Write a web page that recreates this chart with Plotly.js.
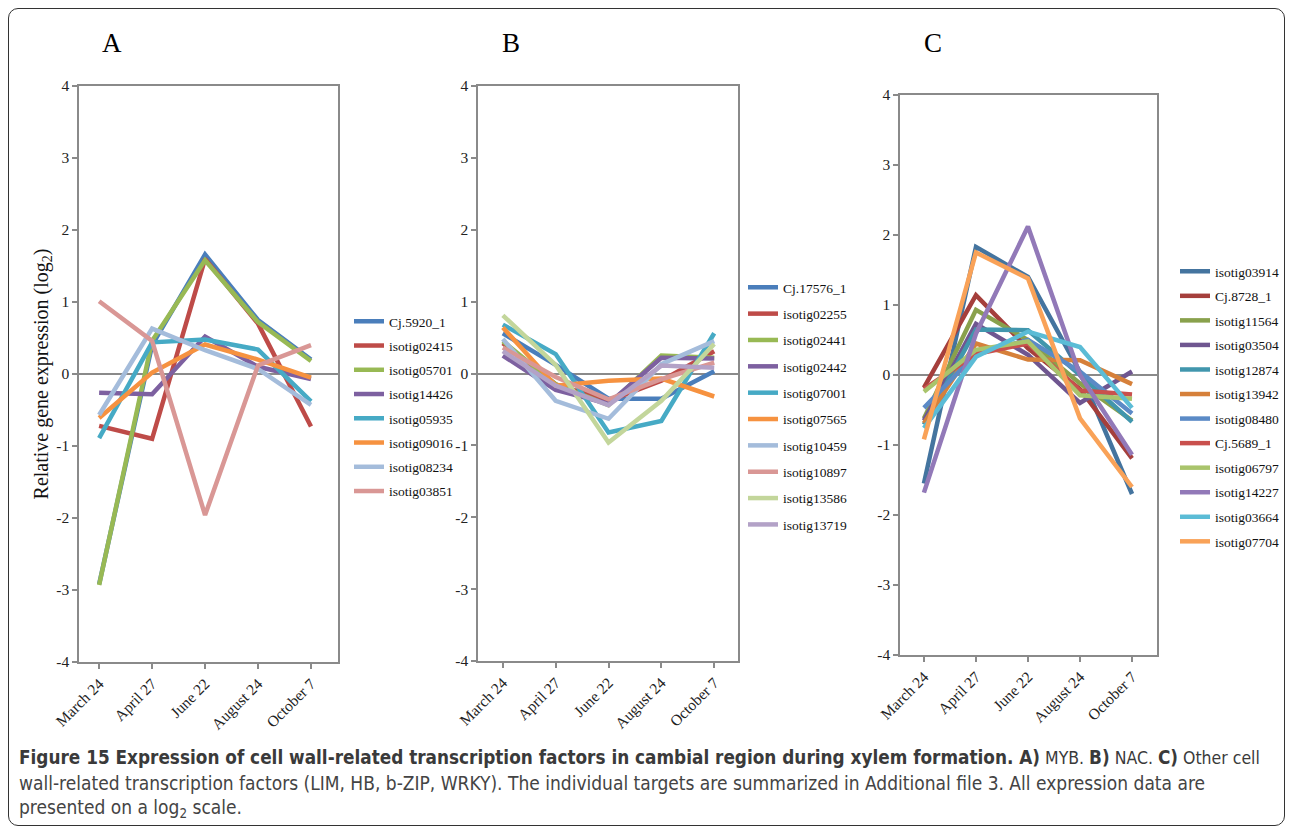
<!DOCTYPE html>
<html>
<head>
<meta charset="utf-8">
<script src="https://cdn.plot.ly/plotly-3.0.1.min.js"></script>
<style>
  html, body { margin: 0; padding: 0; background: #fff; }
  #wrap { position: relative; width: 1293px; height: 829px; }
  #chart { width: 1293px; height: 829px; }
  #frame { position: absolute; left: 8px; top: 8px; width: 1277px; height: 818px;
           border: 1px solid #333; border-radius: 10px; pointer-events: none; box-sizing: border-box; }
</style>
</head>
<body>
<div id="wrap"><div id="chart"></div><div id="frame"></div></div>
<script>
// ---- categories ----
const months = ['March 24', 'April 27', 'June 22', 'August 24', 'October 7'];
const yTickVals = [-4, -3, -2, -1, 0, 1, 2, 3, 4];
const yTickText = ['-4', '-3', '-2', '-1', '0', '1', '2', '3', '4'];

// ---- Panel A: MYB ----
const namesA = ['Cj.5920_1', 'isotig02415', 'isotig05701', 'isotig14426', 'isotig05935', 'isotig09016', 'isotig08234', 'isotig03851'];
const A_Cj5920_1   = [-2.92, 0.40, 1.66, 0.75, 0.20];
const A_isotig02415 = [-0.72, -0.90, 1.60, 0.70, -0.73];
const A_isotig05701 = [-2.93, 0.46, 1.58, 0.72, 0.18];
const A_isotig14426 = [-0.26, -0.28, 0.52, 0.10, -0.07];
const A_isotig05935 = [-0.89, 0.44, 0.48, 0.34, -0.38];
const A_isotig09016 = [-0.61, 0.02, 0.41, 0.20, -0.05];
const A_isotig08234 = [-0.57, 0.63, 0.33, 0.07, -0.43];
const A_isotig03851 = [1.01, 0.46, -1.96, 0.12, 0.40];
const valuesA = [A_Cj5920_1, A_isotig02415, A_isotig05701, A_isotig14426, A_isotig05935, A_isotig09016, A_isotig08234, A_isotig03851];
const colorsA = ['#4a7ebb', '#be4b48', '#98b954', '#7d60a0', '#46aac5', '#f69240', '#a4bcdb', '#d99795'];

// ---- Panel B: NAC ----
const namesB = ['Cj.17576_1', 'isotig02255', 'isotig02441', 'isotig02442', 'isotig07001', 'isotig07565', 'isotig10459', 'isotig10897', 'isotig13586', 'isotig13719'];
const B_Cj17576_1  = [0.56, 0.12, -0.35, -0.35, 0.03];
const B_isotig02255 = [0.42, -0.15, -0.38, -0.10, 0.31];
const B_isotig02441 = [0.45, -0.15, -0.44, 0.25, 0.22];
const B_isotig02442 = [0.25, -0.23, -0.42, 0.22, 0.21];
const B_isotig07001 = [0.68, 0.27, -0.82, -0.66, 0.56];
const B_isotig07565 = [0.64, -0.17, -0.10, -0.07, -0.32];
const B_isotig10459 = [0.48, -0.38, -0.63, 0.13, 0.45];
const B_isotig10897 = [0.36, -0.05, -0.36, -0.08, 0.15];
const B_isotig13586 = [0.81, 0.12, -0.96, -0.38, 0.41];
const B_isotig13719 = [0.31, -0.17, -0.44, 0.11, 0.08];
const valuesB = [B_Cj17576_1, B_isotig02255, B_isotig02441, B_isotig02442, B_isotig07001, B_isotig07565, B_isotig10459, B_isotig10897, B_isotig13586, B_isotig13719];
const colorsB = ['#4a7ebb', '#be4b48', '#98b954', '#7d60a0', '#46aac5', '#f69240', '#a4bcdb', '#d99795', '#c3d69b', '#b3a2c7'];

// ---- Panel C: other (LIM, HB, b-ZIP, WRKY) ----
const namesC = ['isotig03914', 'Cj.8728_1', 'isotig11564', 'isotig03504', 'isotig12874', 'isotig13942', 'isotig08480', 'Cj.5689_1', 'isotig06797', 'isotig14227', 'isotig03664', 'isotig07704'];
const C_isotig03914 = [-1.55, 1.83, 1.40, 0.04, -1.70];
const C_Cj8728_1   = [-0.18, 1.14, 0.38, -0.20, -1.19];
const C_isotig11564 = [-0.62, 0.93, 0.50, -0.12, -0.65];
const C_isotig03504 = [-0.65, 0.73, 0.29, -0.40, 0.05];
const C_isotig12874 = [-0.71, 0.65, 0.64, 0.00, -0.67];
const C_isotig13942 = [-0.69, 0.45, 0.22, 0.21, -0.13];
const C_isotig08480 = [-0.47, 0.30, 0.50, 0.05, -0.55];
const C_Cj5689_1   = [-0.20, 0.30, 0.45, -0.22, -0.28];
const C_isotig06797 = [-0.24, 0.36, 0.48, -0.29, -0.34];
const C_isotig14227 = [-1.68, 0.59, 2.12, 0.00, -1.14];
const C_isotig03664 = [-0.76, 0.26, 0.62, 0.40, -0.47];
const C_isotig07704 = [-0.92, 1.75, 1.38, -0.62, -1.60];
const valuesC = [C_isotig03914, C_Cj8728_1, C_isotig11564, C_isotig03504, C_isotig12874, C_isotig13942, C_isotig08480, C_Cj5689_1, C_isotig06797, C_isotig14227, C_isotig03664, C_isotig07704];
const colorsC = ['#44749f', '#a53f3c', '#89a14c', '#6f5690', '#4196ad', '#d6803a', '#5b8ac6', '#c9504d', '#a9c46c', '#9279b8', '#5bbcd6', '#f9a258'];

const W = 1293, H = 829;
const px = v => v / W;
const py = v => 1 - v / H;

const traces = [];
function addPanel(names, values, colors, xa, ya, leg) {
  names.forEach((n, i) => {
    traces.push({
      type: 'scatter', mode: 'lines', x: months, y: values[i], name: n,
      xaxis: xa, yaxis: ya, legend: leg, legendgroup: leg + i,
      line: { color: colors[i], width: 4.5 },
      hoverinfo: 'x+y+name'
    });
  });
}
addPanel(namesA, valuesA, colorsA, 'x', 'y', 'legend');
addPanel(namesB, valuesB, colorsB, 'x2', 'y2', 'legend2');
addPanel(namesC, valuesC, colorsC, 'x3', 'y3', 'legend3');

const serif = 'Liberation Serif';
const axisCol = '#8a8a8a';
function xaxisDef(d0, d1, r0, r1, anchor) {
  return {
    domain: [px(d0), px(d1)], anchor: anchor, type: 'category', range: [r0, r1],
    showline: true, linecolor: axisCol, linewidth: 1.5, mirror: true,
    ticks: 'outside', ticklen: 5, tickcolor: axisCol, tickwidth: 1.5,
    tickangle: -45, showgrid: false, zeroline: false,
    tickfont: { family: serif, size: 15.5, color: '#222' }
  };
}
function yaxisDef(t, b, anchor, title) {
  const o = {
    domain: [py(b), py(t)], anchor: anchor, range: [-4, 4],
    tickmode: 'array', tickvals: yTickVals, ticktext: yTickText,
    showline: true, linecolor: axisCol, linewidth: 1.5, mirror: true,
    ticks: 'outside', ticklen: 5, tickcolor: axisCol, tickwidth: 1.5,
    showgrid: false, zeroline: true, zerolinecolor: axisCol, zerolinewidth: 1.5,
    tickfont: { family: serif, size: 15.5, color: '#222' }
  };
  if (title) o.title = { text: title, font: { family: serif, size: 20, color: '#111' }, standoff: 2 };
  return o;
}
function legendDef(x, y, gap) {
  return {
    x: px(x), y: py(y), xanchor: 'left', yanchor: 'top', xref: 'paper', yref: 'paper',
    bgcolor: 'rgba(0,0,0,0)', borderwidth: 0, tracegroupgap: gap, itemwidth: 30,
    font: { family: serif, size: 13.5, color: '#111' }
  };
}

const capFont = 'DejaVu Sans Condensed';
const Bd = s => '<b><span style="font-size:18.8px">' + s + '</span></b>';
const Rg = s => '<span style="font-size:17.5px">' + s + '</span>';
const layout = {
  width: W, height: H, margin: { l: 0, r: 0, t: 0, b: 0 },
  font: { family: serif, size: 13.5, color: '#111' },
  paper_bgcolor: '#fff', plot_bgcolor: '#fff', showlegend: true,
  xaxis: xaxisDef(79, 338, -0.38, 4.51, 'y'),
  yaxis: yaxisDef(86, 662, 'x', 'Relative gene expression (log<sub>2</sub>)'),
  xaxis2: xaxisDef(478, 738, -0.47, 4.45, 'y2'),
  yaxis2: yaxisDef(86, 661, 'x2'),
  xaxis3: xaxisDef(900, 1157, -0.46, 4.48, 'y3'),
  yaxis3: yaxisDef(95, 655, 'x3'),
  legend: legendDef(349, 306, 3.7),
  legend2: legendDef(743, 272, 5.8),
  legend3: legendDef(1175, 256, 4.0),
  annotations: [
    { text: 'A', x: px(112), y: py(43), xref: 'paper', yref: 'paper', xanchor: 'center', yanchor: 'middle', showarrow: false, font: { family: serif, size: 27, color: '#000' } },
    { text: 'B', x: px(511), y: py(43), xref: 'paper', yref: 'paper', xanchor: 'center', yanchor: 'middle', showarrow: false, font: { family: serif, size: 27, color: '#000' } },
    { text: 'C', x: px(933), y: py(43), xref: 'paper', yref: 'paper', xanchor: 'center', yanchor: 'middle', showarrow: false, font: { family: serif, size: 27, color: '#000' } },
    { text: Bd('Figure 15 Expression of cell wall-related transcription factors in cambial region during xylem formation. A)') + Rg(' MYB. ') + Bd('B)') + Rg(' NAC. ') + Bd('C)') + Rg(' Other cell'),
      x: px(17), y: py(757), xref: 'paper', yref: 'paper', xanchor: 'left', yanchor: 'middle', showarrow: false, align: 'left',
      font: { family: capFont, size: 19, color: '#3a3a3a' } },
    { text: 'wall-related transcription factors (LIM, HB, b-ZIP, WRKY). The individual targets are summarized in Additional file 3. All expression data are',
      x: px(17), y: py(783), xref: 'paper', yref: 'paper', xanchor: 'left', yanchor: 'middle', showarrow: false, align: 'left',
      font: { family: capFont, size: 19, color: '#444' } },
    { text: 'presented on a log<sub>2</sub> scale.',
      x: px(17), y: py(808), xref: 'paper', yref: 'paper', xanchor: 'left', yanchor: 'middle', showarrow: false, align: 'left',
      font: { family: capFont, size: 19, color: '#444' } }
  ]
};

Plotly.newPlot('chart', traces, layout, { displayModeBar: false, responsive: false });
</script>
</body>
</html>
